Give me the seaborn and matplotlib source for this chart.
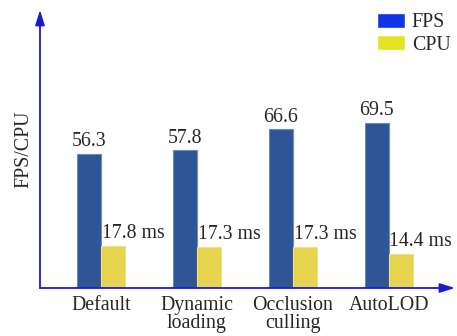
import pandas as pd
import seaborn as sns
import matplotlib.pyplot as plt
from matplotlib.patches import Patch

categories = ["Default", "Dynamic\nloading", "Occlusion\nculling", "AutoLOD"]
fps = [56.3, 57.8, 66.6, 69.5]
cpu = [17.8, 17.3, 17.3, 14.4]

df = pd.DataFrame({"case": categories * 2,
                   "metric": ["FPS"] * 4 + ["CPU"] * 4,
                   "value": fps + cpu})

sns.set_style("white")
plt.rcParams['font.family'] = ['Liberation Serif', 'DejaVu Serif']
FS = 14.3

bar_colors = {"FPS": "#2F5597", "CPU": "#E6D44E"}
edge_colors = {"FPS": "#6A8AC8", "CPU": "#EEE08A"}
axis_blue = "#1A1AD2"

fig = plt.figure(figsize=(4.57, 3.36), dpi=100)
ax = fig.add_axes([40 / 457, 1 - 288 / 336, 415 / 457, 278 / 336])

sns.barplot(data=df, x="case", y="value", hue="metric", palette=bar_colors,
            width=0.5, saturation=1, ax=ax, legend=False)

ax.set_xlim(-0.635, 3.69)
ax.set_ylim(0, 116.8)

for cont, name in zip(ax.containers, ["FPS", "CPU"]):
    for p in cont.patches:
        p.set_edgecolor(edge_colors[name])
        p.set_linewidth(0.8)
        h = p.get_height()
        if name == "FPS":
            ax.annotate(f"{h:.1f}", (p.get_x() + p.get_width() / 2, h),
                        xytext=(0, 2), textcoords="offset points",
                        ha="center", va="bottom", fontsize=FS)
        else:
            ax.annotate(f"{h:.1f} ms", (p.get_x(), h),
                        xytext=(0.5, 2), textcoords="offset points",
                        ha="left", va="bottom", fontsize=FS)

for s in ax.spines.values():
    s.set_visible(False)

arrow = dict(arrowstyle="-|>,head_length=0.9,head_width=0.28", color=axis_blue,
             lw=1.3, shrinkA=0, shrinkB=0)
ax.annotate("", xy=(0, 1.0), xytext=(0, 0), xycoords="axes fraction",
            arrowprops=arrow, annotation_clip=False)
ax.annotate("", xy=(1.0, 0), xytext=(0, 0), xycoords="axes fraction",
            arrowprops=arrow, annotation_clip=False)

ax.set_yticks([])
ax.tick_params(axis="x", length=0, pad=6, labelsize=FS)
for t in ax.get_xticklabels():
    t.set_linespacing(0.92)
ax.set_xlabel("")
ax.set_ylabel("FPS/CPU", fontsize=FS, labelpad=5)

handles = [Patch(facecolor="#1034E6", label="FPS"),
           Patch(facecolor="#E4E424", label="CPU")]
ax.legend(handles=handles, loc="upper left", bbox_to_anchor=(377 / 457, 1 - 13 / 336),
          bbox_transform=fig.transFigure, frameon=False, fontsize=FS,
          handlelength=1.4, handleheight=0.78, handletextpad=0.35,
          labelspacing=0.15, borderpad=0, borderaxespad=0)

fig.savefig("out.png", dpi=100)
